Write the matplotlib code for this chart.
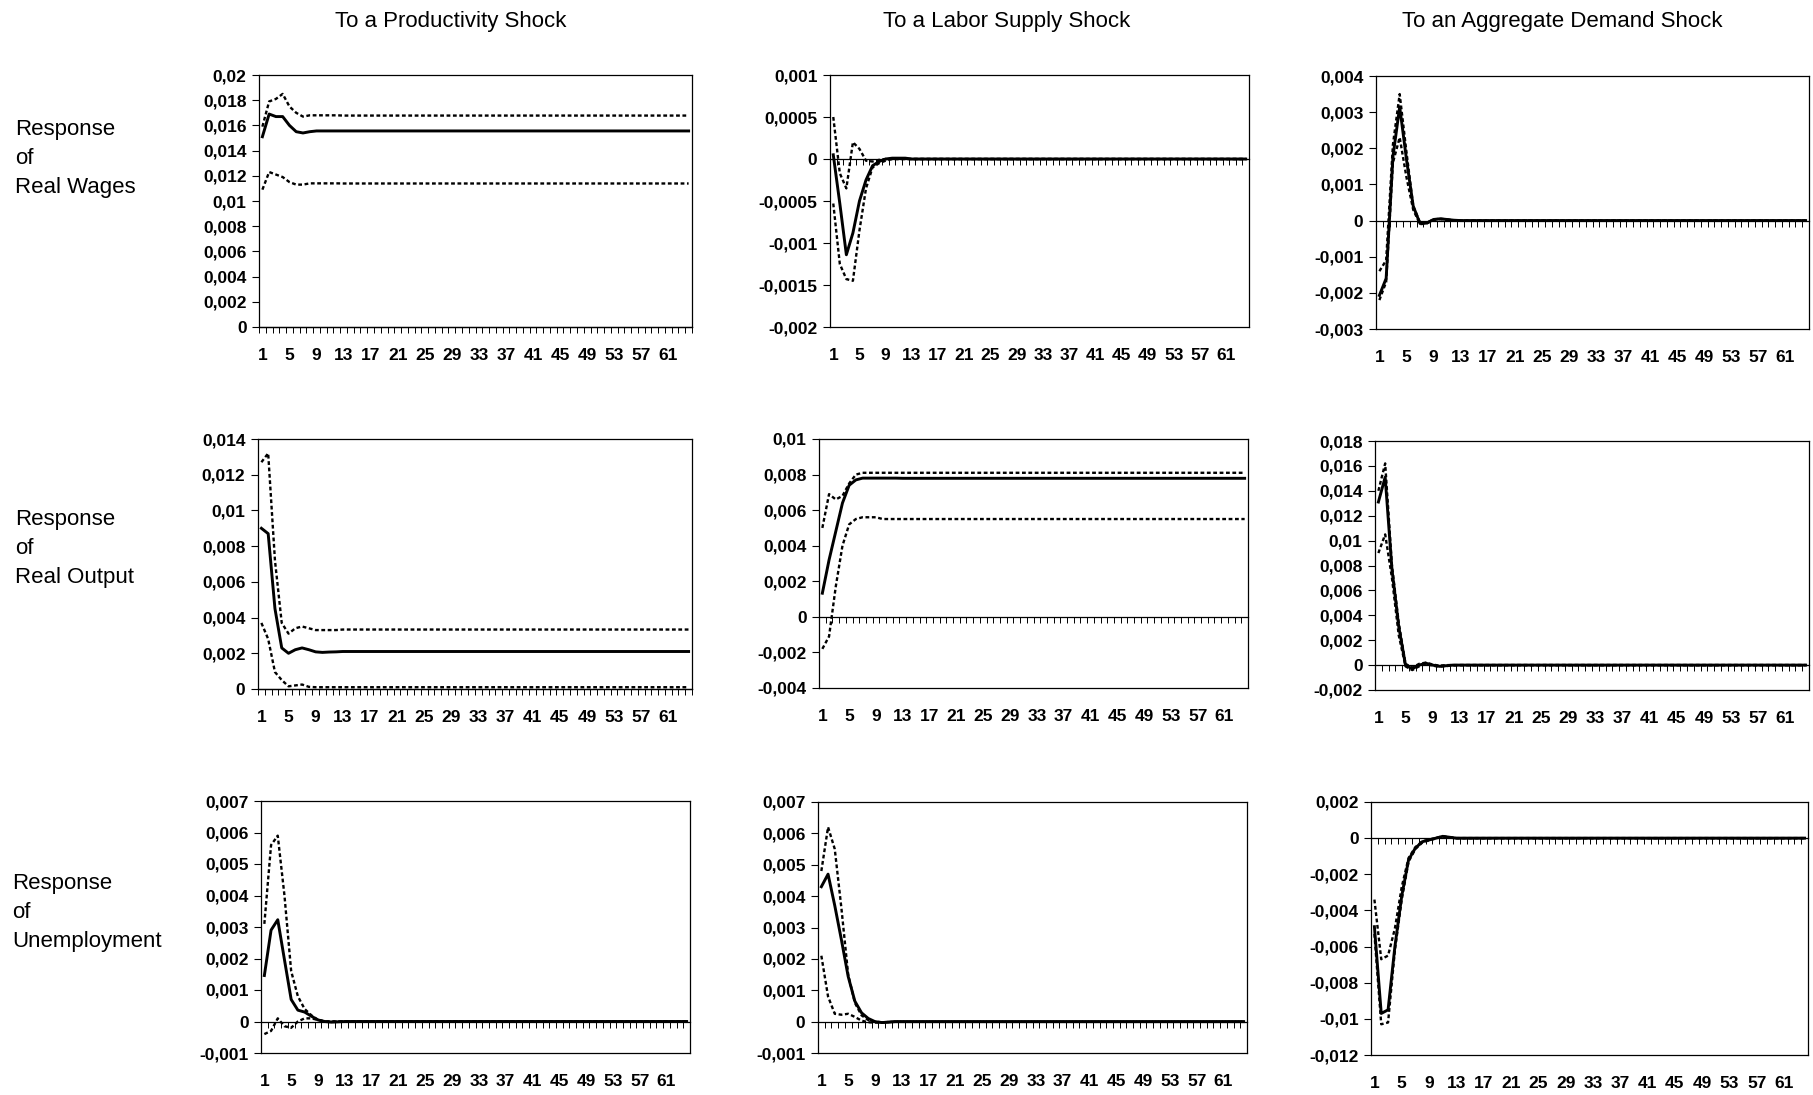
import numpy as np
import matplotlib
matplotlib.use("Agg")
import matplotlib.pyplot as plt

plt.rcParams['font.family'] = ['Liberation Sans', 'DejaVu Sans']

# ---- data: impulse responses (point estimate, upper band, lower band) ----
periods = np.arange(1, 65)
TAIL = 52  # periods 13..64, where every curve has settled

col_titles = ["To a Productivity Shock", "To a Labor Supply Shock",
              "To an Aggregate Demand Shock"]
row_labels = ["Response\nof\nReal Wages", "Response\nof\nReal Output",
              "Response\nof\nUnemployment"]

# real wages
wage_prod = [0.0151, 0.0169, 0.0167, 0.0167, 0.0160, 0.0155, 0.0154, 0.0155,
             0.01556, 0.01556, 0.01556, 0.01556] + [0.01556] * TAIL
wage_prod_hi = [0.0159, 0.0179, 0.0181, 0.0185, 0.0175, 0.0170, 0.0167, 0.0168,
                0.0168, 0.0168, 0.0168, 0.0168] + [0.01678] * TAIL
wage_prod_lo = [0.0109, 0.0123, 0.0121, 0.0119, 0.0115, 0.0113, 0.0113, 0.0114,
                0.0114, 0.0114, 0.0114, 0.0114] + [0.01139] * TAIL

wage_lab = [0.00005, -0.00053, -0.00114, -0.00088, -0.0005, -0.00025, -0.00008,
            -0.00003, 0.0, 0.00001, 0.00001, 0.00001] + [0.0] * TAIL
wage_lab_hi = [0.0005, -0.00017, -0.00035, 0.0002, 0.00012, -0.00002, -0.00003,
               -0.00001, 0.0, 0.0, 0.0, 0.0] + [0.0] * TAIL
wage_lab_lo = [-0.00053, -0.00125, -0.00143, -0.00145, -0.00085, -0.00035, -0.0001,
               -0.00005, -0.00002, 0.0, 0.0, 0.0] + [0.0] * TAIL

wage_ad = [-0.00207, -0.0016, 0.00176, 0.00315, 0.0017, 0.0004, -0.00008, -0.00007,
           0.00003, 0.00005, 0.00003, 0.00001] + [0.0] * TAIL
wage_ad_hi = [-0.0014, -0.0011, 0.0021, 0.0035, 0.0019, 0.0004, -0.00005, -0.00006,
              0.00003, 0.00005, 0.00003, 0.00001] + [0.0] * TAIL
wage_ad_lo = [-0.0022, -0.0017, 0.0016, 0.0023, 0.0012, 0.0003, -0.0001, -0.00008,
              0.00002, 0.00004, 0.00002, 0.0] + [0.0] * TAIL

# real output
out_prod = [0.0090, 0.0087, 0.0045, 0.0023, 0.0020, 0.0022, 0.0023, 0.0022,
            0.00208, 0.00205, 0.00207, 0.00208] + [0.0021] * TAIL
out_prod_hi = [0.0127, 0.0132, 0.0072, 0.0037, 0.0031, 0.0034, 0.0035, 0.0034,
               0.0033, 0.0033, 0.0033, 0.0033] + [0.00333] * TAIL
out_prod_lo = [0.0037, 0.0028, 0.00095, 0.0005, 0.00015, 0.0002, 0.00025, 0.00012,
               0.0001, 0.0001, 0.0001, 0.0001] + [0.0001] * TAIL

out_lab = [0.00133, 0.0032, 0.0048, 0.0064, 0.0074, 0.0077, 0.0078, 0.0078,
           0.0078, 0.0078, 0.0078, 0.0078] + [0.00779] * TAIL
out_lab_hi = [0.0050, 0.0069, 0.0066, 0.0068, 0.0075, 0.0080, 0.0081, 0.0081,
              0.0081, 0.0081, 0.0081, 0.0081] + [0.0081] * TAIL
out_lab_lo = [-0.0018, -0.0011, 0.0017, 0.0040, 0.0052, 0.0055, 0.0056, 0.0056,
              0.0056, 0.0055, 0.0055, 0.0055] + [0.0055] * TAIL

out_ad = [0.0131, 0.0151, 0.0077, 0.0031, 0.0000, -0.0003, 0.0000, 0.00015,
          0.0000, -0.0001, -0.00005, 0.0] + [0.0] * TAIL
out_ad_hi = [0.0140, 0.0162, 0.0080, 0.0034, 0.0001, -0.0002, 0.0001, 0.0002,
             0.00005, -0.00005, 0.0, 0.0] + [0.0] * TAIL
out_ad_lo = [0.0090, 0.0105, 0.0070, 0.0024, -0.0001, -0.0004, -0.0001, 0.0001,
             -0.00005, -0.00012, -0.00008, -0.00002] + [0.0] * TAIL

# unemployment
unemp_prod = [0.00146, 0.0029, 0.00323, 0.00196, 0.0007, 0.00036, 0.0003, 0.00017,
              0.00005, 0.0, -0.00002, -0.00001] + [0.0] * TAIL
unemp_prod_hi = [0.0031, 0.0056, 0.0059, 0.0040, 0.0016, 0.0008, 0.0004, 0.0002,
                 0.00005, 0.0, 0.0, 0.0] + [0.0] * TAIL
unemp_prod_lo = [-0.0004, -0.0003, 0.0001, -0.00015, -0.0002, 0.0, 0.0001, 0.0001,
                 0.00005, 0.0, 0.0, 0.0] + [0.0] * TAIL

unemp_lab = [0.0043, 0.0047, 0.0037, 0.0026, 0.00144, 0.00065, 0.00028, 0.0001,
             0.0, -0.00003, -0.00002, 0.0] + [0.0] * TAIL
unemp_lab_hi = [0.0048, 0.0062, 0.0055, 0.0036, 0.0015, 0.0006, 0.0002, 0.00005,
                0.0, -0.00002, -0.00001, 0.0] + [0.0] * TAIL
unemp_lab_lo = [0.0021, 0.0008, 0.00025, 0.00022, 0.00025, 0.00015, 0.00003, -0.00002,
                -0.00003, -0.00003, -0.00001, 0.0] + [0.0] * TAIL

unemp_ad = [-0.0049, -0.0097, -0.0095, -0.0060, -0.0032, -0.0012, -0.00055, -0.0002,
            -0.0001, 0.0, 0.0001, 0.00005] + [0.0] * TAIL
unemp_ad_hi = [-0.0034, -0.0067, -0.0065, -0.0050, -0.0027, -0.0011, -0.0005, -0.00018,
               -0.00008, 0.00001, 0.0001, 0.00005] + [0.0] * TAIL
unemp_ad_lo = [-0.0053, -0.0103, -0.0102, -0.0062, -0.0034, -0.0013, -0.0006, -0.00025,
               -0.00012, -0.00002, 0.00008, 0.00004] + [0.0] * TAIL

panels = [
    [(wage_prod, wage_prod_hi, wage_prod_lo), (wage_lab, wage_lab_hi, wage_lab_lo),
     (wage_ad, wage_ad_hi, wage_ad_lo)],
    [(out_prod, out_prod_hi, out_prod_lo), (out_lab, out_lab_hi, out_lab_lo),
     (out_ad, out_ad_hi, out_ad_lo)],
    [(unemp_prod, unemp_prod_hi, unemp_prod_lo), (unemp_lab, unemp_lab_hi, unemp_lab_lo),
     (unemp_ad, unemp_ad_hi, unemp_ad_lo)],
]

# y axis ranges (min, max, step)
y_axes = [
    [(0, 0.02, 0.002), (-0.002, 0.001, 0.0005), (-0.003, 0.004, 0.001)],
    [(0, 0.014, 0.002), (-0.004, 0.01, 0.002), (-0.002, 0.018, 0.002)],
    [(-0.001, 0.007, 0.001), (-0.001, 0.007, 0.001), (-0.012, 0.002, 0.002)],
]

# ---- layout (pixel boxes: left, top, right, bottom) ----
W, H = 1813, 1095
boxes = [
    [(259, 75, 692, 327), (830, 75, 1249, 327), (1376, 76, 1809, 329)],
    [(258, 439, 692, 689), (819, 439, 1248, 688), (1375, 441, 1809, 690)],
    [(261, 801, 690, 1053), (818, 802, 1247, 1053), (1371, 802, 1808, 1055)],
]
title_x = [451, 1007, 1562]
label_pos = [(15, 158), (15, 549), (12, 912)]


def comma(v):
    s = f"{round(v, 6):g}"
    if s == "-0":
        s = "0"
    return s.replace(".", ",")


fig = plt.figure(figsize=(W / 100, H / 100), dpi=100)

for r in range(3):
    for c in range(3):
        l, t, rr, b = boxes[r][c]
        ax = fig.add_axes([l / W, 1 - b / H, (rr - l) / W, (b - t) / H])
        irf, hi, lo = panels[r][c]
        ax.plot(periods, hi, color='black', lw=1.7, ls=(0, (1.6, 1.1)))
        ax.plot(periods, lo, color='black', lw=1.7, ls=(0, (1.6, 1.1)))
        ax.plot(periods, irf, color='black', lw=2.1)

        ymin, ymax, step = y_axes[r][c]
        n = int(round((ymax - ymin) / step))
        yt = np.linspace(ymin, ymax, n + 1)
        ax.set_ylim(ymin, ymax)
        ax.set_yticks(yt)
        ax.set_yticklabels([comma(v) for v in yt], fontweight='bold')
        ax.set_xlim(0.5, 64.5)
        ax.set_xticks(range(1, 62, 4))
        ax.set_xticklabels([str(v) for v in range(1, 62, 4)], fontweight='bold')
        ax.tick_params(axis='x', length=0, pad=15, labelsize=12.5)
        ax.tick_params(axis='y', length=5, width=0.8, direction='out', pad=4,
                       labelsize=12.5)
        for sp in ax.spines.values():
            sp.set_linewidth(0.9)

        # category axis crossing at zero, with a tick per period
        zero = ax.secondary_xaxis(0, transform=ax.transData)
        zero.set_xticks(np.arange(0.5, 64.6, 1))
        zero.tick_params(axis='x', length=4, width=0.7, direction='out',
                         labelbottom=False)
        zero.spines['bottom'].set_linewidth(0.9)

for c in range(3):
    fig.text(title_x[c] / W, 1 - 22 / H, col_titles[c], ha='center', va='center',
             fontsize=16)
for r in range(3):
    x, y = label_pos[r]
    fig.text(x / W, 1 - y / H, row_labels[r], ha='left', va='center',
             fontsize=16, linespacing=1.5)

fig.savefig("out.png", dpi=100)
